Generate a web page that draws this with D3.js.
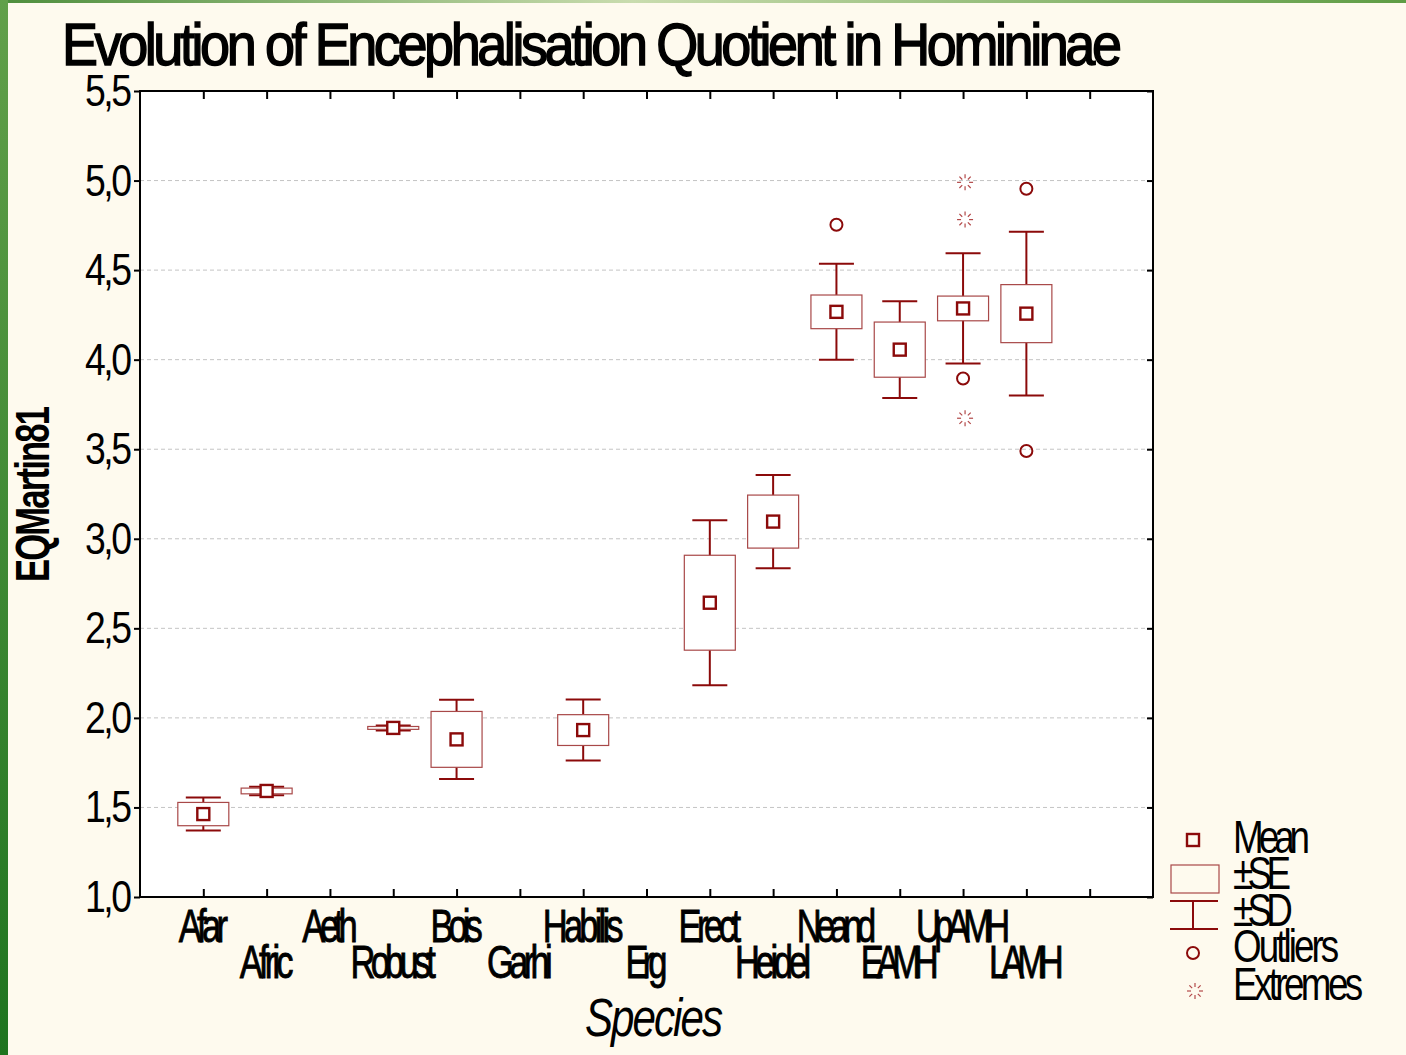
<!DOCTYPE html>
<html><head><meta charset="utf-8">
<script src="https://cdn.jsdelivr.net/npm/d3@7"></script>
<style>
html,body{margin:0;padding:0;background:#fefaee;}
svg{display:block;}
text{font-family:"Liberation Sans",Arial,sans-serif;fill:#000;}
</style></head>
<body>
<svg id="chart" width="1406" height="1055"></svg>
<script>
// ---------- data ----------
const categories = ["Afar","Afric","Aeth","Robust","Bois","Garhi","Habilis","Erg","Erect","Heidel","Neand","EAMH","UpAMH","LAMH",""];
const means = [1.463, 1.592, null, 1.944, 1.880, null, 1.932, null, 2.643, 3.096, 4.267, 4.056, 4.286, 4.257, null];
const ses   = [0.065, 0.016, null, 0.008, 0.156, null, 0.086, null, 0.265, 0.148, 0.094, 0.154, 0.069, 0.162, null];
const sds   = [0.092, 0.024, null, 0.014, 0.221, null, 0.170, null, 0.461, 0.260, 0.268, 0.270, 0.308, 0.457, null];
const outlierCats = ["Neand","UpAMH","LAMH","LAMH"];
const outlierVals = [4.753, 3.895, 4.954, 3.490];
const extremeCats = ["UpAMH","UpAMH","UpAMH"];
const extremeVals = [4.990, 4.782, 3.673];
const yTicks = [1.0,1.5,2.0,2.5,3.0,3.5,4.0,4.5,5.0,5.5];
const legendLabels = ["Mean","±SE","±SD","Outliers","Extremes"];
const title = "Evolution of Encephalisation Quotient in Homininae";
const yTitle = "EQMartin81";
const xTitle = "Species";

// ---------- layout ----------
const W = 1406, H = 1055;
const L = 140, R = 1153, T = 91, B = 897;
const RED = "#8b0a0a", BOXRED = "#a84848";
const svg = d3.select("#chart");

// background decorations
const defs = svg.append("defs");
const gl = defs.append("linearGradient").attr("id","gLeft").attr("x1",0).attr("y1",0).attr("x2",0).attr("y2",1);
gl.append("stop").attr("offset","0%").attr("stop-color","#62a04a");
gl.append("stop").attr("offset","100%").attr("stop-color","#1f741f");
const gt = defs.append("linearGradient").attr("id","gTop").attr("x1",0).attr("y1",0).attr("x2",1).attr("y2",0);
gt.append("stop").attr("offset","0%").attr("stop-color","#4e8e3c");
gt.append("stop").attr("offset","45%").attr("stop-color","#c9dcae");
gt.append("stop").attr("offset","100%").attr("stop-color","#5e9c44");
svg.append("rect").attr("width",W).attr("height",H).attr("fill","#fefaee");
svg.append("rect").attr("x",0).attr("y",0).attr("width",W).attr("height",3).attr("fill","url(#gTop)");
svg.append("rect").attr("x",0).attr("y",0).attr("width",8).attr("height",H).attr("fill","url(#gLeft)");

// scales
const x = d3.scalePoint().domain(categories).range([L,R]).padding(1);
const y = d3.scaleLinear().domain([1.0,5.5]).range([B,T]);

// plot background
svg.append("rect").attr("x",L).attr("y",T).attr("width",R-L).attr("height",B-T).attr("fill","#ffffff");

// gridlines
svg.append("g").selectAll("line").data(yTicks.filter(d=>d>1.0 && d<5.5)).join("line")
  .attr("x1",L).attr("x2",R).attr("y1",d=>y(d)).attr("y2",d=>y(d))
  .attr("stroke","#c4c4c4").attr("stroke-width",1).attr("stroke-dasharray","4,3");

// axes ticks
const tickStyle = g => { g.select(".domain").remove(); g.selectAll("text").remove(); g.selectAll("line").attr("stroke","#000").attr("stroke-width",2); };
svg.append("g").attr("transform",`translate(0,${B})`).call(d3.axisBottom(x).tickValues(categories).tickSize(-8)).call(tickStyle);
svg.append("g").attr("transform",`translate(0,${T})`).call(d3.axisTop(x).tickValues(categories).tickSize(-8)).call(tickStyle);
svg.append("g").attr("transform",`translate(${L},0)`).call(d3.axisLeft(y).tickValues(yTicks).tickSize(6)).call(tickStyle);
svg.append("g").attr("transform",`translate(${R},0)`).call(d3.axisRight(y).tickValues(yTicks).tickSize(-6)).call(tickStyle);

// frame
svg.append("rect").attr("x",L).attr("y",T).attr("width",R-L).attr("height",B-T)
  .attr("fill","none").attr("stroke","#000").attr("stroke-width",2);

// boxes
const rows = categories.map((c,i)=>({c, m:means[i], se:ses[i], sd:sds[i]})).filter(d=>d.m!=null);
const gBox = svg.append("g");
const boxW = 51, capW = 35, meanS = 12;
rows.forEach(d=>{
  const cx = x(d.c);
  const g = gBox.append("g");
  g.append("line").attr("x1",cx).attr("x2",cx).attr("y1",y(d.m+d.sd)).attr("y2",y(d.m-d.sd)).attr("stroke",RED).attr("stroke-width",2);
  g.append("line").attr("x1",cx-capW/2).attr("x2",cx+capW/2).attr("y1",y(d.m+d.sd)).attr("y2",y(d.m+d.sd)).attr("stroke",RED).attr("stroke-width",2);
  g.append("line").attr("x1",cx-capW/2).attr("x2",cx+capW/2).attr("y1",y(d.m-d.sd)).attr("y2",y(d.m-d.sd)).attr("stroke",RED).attr("stroke-width",2);
  g.append("rect").attr("x",cx-boxW/2).attr("width",boxW).attr("y",y(d.m+d.se)).attr("height",Math.max(1,y(d.m-d.se)-y(d.m+d.se)))
    .attr("fill","#fff").attr("stroke",BOXRED).attr("stroke-width",1.2);
  g.append("rect").attr("x",cx-meanS/2).attr("y",y(d.m)-meanS/2).attr("width",meanS).attr("height",meanS)
    .attr("fill","#fff").attr("stroke",RED).attr("stroke-width",2.4);
});

// outliers
svg.append("g").selectAll("circle").data(outlierVals.map((v,i)=>({c:outlierCats[i],v}))).join("circle")
  .attr("cx",d=>x(d.c)).attr("cy",d=>y(d.v)).attr("r",6).attr("fill","none").attr("stroke",RED).attr("stroke-width",2);

// extremes
function star(g,cx,cy){
  for(let k=0;k<8;k++){
    const a = k*Math.PI/4;
    g.append("line").attr("x1",cx+Math.cos(a)*4).attr("y1",cy+Math.sin(a)*4)
      .attr("x2",cx+Math.cos(a)*8).attr("y2",cy+Math.sin(a)*8)
      .attr("stroke","#b24848").attr("stroke-width",1.2);
  }
}
const gExt = svg.append("g");
extremeVals.forEach((v,i)=>star(gExt, x(extremeCats[i])+2, y(v)));

// condensed text: glyphs squeezed horizontally by sx, remaining fit by negative spacing
function condensed(parent, str, x0, y0, fs, len, sx, anchor, extra){
  const t = parent.append("text").attr("font-size",fs).text(str);
  if(extra) extra(t);
  const left = anchor==="middle" ? x0 - len/2 : (anchor==="end" ? x0 - len : x0);
  t.attr("textLength", len/sx).attr("lengthAdjust","spacing")
   .attr("transform",`translate(${left},${y0}) scale(${sx},1)`);
  return t;
}

// y tick labels
const gy = svg.append("g");
yTicks.forEach(v=> condensed(gy, v.toFixed(1).replace(".",","), 132, y(v)+15, 44, 47, 0.85, "end"));

// x labels
const gx = svg.append("g");
categories.filter(c=>c!=="").forEach((c,i)=>{
  const tmp = gx.append("text").attr("font-size",46).text(c);
  const nat = tmp.node().getComputedTextLength(); tmp.remove();
  condensed(gx, c, x(c), i%2===0 ? 942 : 978, 46, nat*0.585, 0.75, "middle",
    t=>t.attr("stroke","#000").attr("stroke-width",0.9));
});

// title
condensed(svg, title, 62, 65, 60, 1060, 0.9, "start", t=>t.attr("stroke","#000").attr("stroke-width",1.5));

// y title
const yt = svg.append("g").attr("transform",`translate(49,${(T+B)/2}) rotate(-90)`);
condensed(yt, yTitle, 0, 0, 48, 176, 0.72, "middle", t=>t.attr("font-weight","bold"));

// x title
condensed(svg, xTitle, 654, 1036, 54, 138, 0.78, "middle", t=>t.attr("font-style","italic"));

// legend
const lg = svg.append("g");
const lx = 1193;
lg.append("rect").attr("x",lx-6).attr("y",834).attr("width",12).attr("height",12).attr("fill","none").attr("stroke",RED).attr("stroke-width",2.4);
lg.append("rect").attr("x",1171).attr("y",865).attr("width",48).attr("height",28).attr("fill","none").attr("stroke",BOXRED).attr("stroke-width",1.2);
lg.append("line").attr("x1",1170).attr("x2",1218).attr("y1",901).attr("y2",901).attr("stroke",RED).attr("stroke-width",2);
lg.append("line").attr("x1",1170).attr("x2",1218).attr("y1",929).attr("y2",929).attr("stroke",RED).attr("stroke-width",2);
lg.append("line").attr("x1",lx).attr("x2",lx).attr("y1",901).attr("y2",929).attr("stroke",RED).attr("stroke-width",2);
lg.append("circle").attr("cx",lx).attr("cy",953).attr("r",6).attr("fill","none").attr("stroke",RED).attr("stroke-width",2);
star(lg, 1195, 991);
const legY = [853, 889, 926, 962, 1000];
legendLabels.forEach((s,i)=>{
  const tmp = lg.append("text").attr("font-size",46).text(s);
  const nat = tmp.node().getComputedTextLength(); tmp.remove();
  condensed(lg, s, 1233, legY[i], 46, nat*0.67, 0.8, "start");
});
</script>
</body></html>
